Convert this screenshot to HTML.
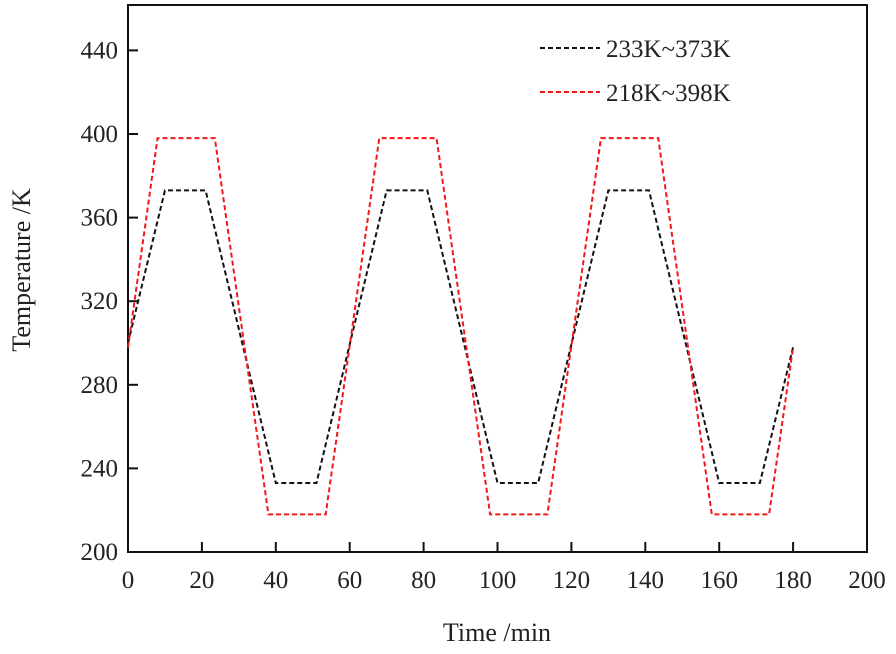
<!DOCTYPE html>
<html><head><meta charset="utf-8"><style>
body{margin:0;background:#fff}
svg text{font-family:"Liberation Serif",serif;fill:#222}
</style></head><body>
<svg width="896" height="649">
<g id="g"></g>
</svg>
<script>
const xTicks=[0,20,40,60,80,100,120,140,160,180,200];
const yTicks=[200,240,280,320,360,400,440];
const tBlack=[0,10,21,40,51,70,81,100,111,130,141,160,171,180];
const vBlack=[300,373,373,233,233,373,373,233,233,373,373,233,233,298];
const tRed=[0,8,23.5,38,53.5,68,83.5,98,113.5,128,143.5,158,173.5,180];
const vRed=[298,398,398,218,218,398,398,218,218,398,398,218,218,298];
const L=128,R=867,T=5,B=552;
const X=v=>L+(v-0)*(R-L)/200;
const Y=v=>B-(v-200)*(134-B)/(200-400);
const g=document.getElementById('g');
const NS='http://www.w3.org/2000/svg';
function mk(tag,attrs){const e=document.createElementNS(NS,tag);for(const k in attrs)e.setAttribute(k,attrs[k]);g.appendChild(e);return e;}
let f=mk('rect',{x:L,y:T,width:R-L,height:B-T,fill:'none',stroke:'#111','stroke-width':2});


xTicks.forEach(v=>{
 let t=mk('line',{x1:X(v),x2:X(v),y1:B,y2:B-10,stroke:'#111','stroke-width':2});
 
 
 let l=mk('text',{x:X(v),y:B+36,'text-anchor':'middle','font-size':25});
 l.textContent=v;
 
 
});
yTicks.forEach(v=>{
 let t=mk('line',{x1:L,x2:L+10,y1:Y(v),y2:Y(v),stroke:'#111','stroke-width':2});
 
 
 let l=mk('text',{x:L-10,y:Y(v)+8,'text-anchor':'end','font-size':25});
 l.textContent=v;
 
 
});
function series(ts,vs,c,name){
 let p=mk('polyline',{points:ts.map((t,i)=>X(t)+','+Y(vs[i])).join(' '),fill:'none',stroke:c,'stroke-width':2,'stroke-dasharray':'5,3'});
 
 
}
series(tBlack,vBlack,'#111','series-233-373');
series(tRed,vRed,'#f01818','series-218-398');
[['#111','233K~373K',48],['#f01818','218K~398K',92]].forEach(([c,s,y])=>{
 let ln=mk('line',{x1:540,x2:600,y1:y,y2:y,stroke:c,'stroke-width':2,'stroke-dasharray':'5,3'});
 
 
 let t=mk('text',{x:606,y:y+9,'font-size':25});
 t.textContent=s;
 
 
});
let xt=mk('text',{x:497,y:641,'text-anchor':'middle','font-size':26});
xt.textContent='Time /min';


let yt=mk('text',{x:0,y:0,'text-anchor':'middle','font-size':26,transform:'translate(30,270) rotate(-90)'});
yt.textContent='Temperature /K';


</script>
</body></html>
